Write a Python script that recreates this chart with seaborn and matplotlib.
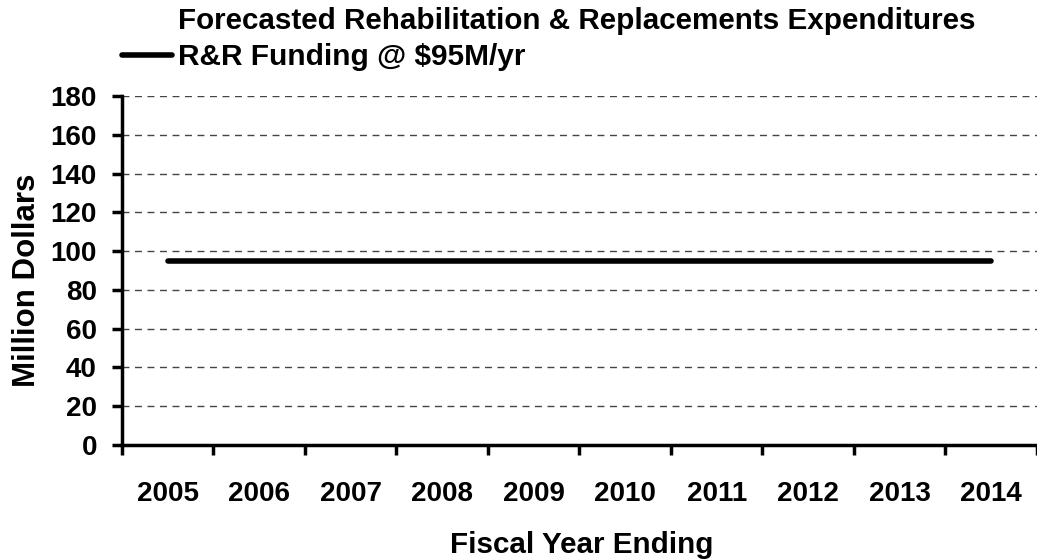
# Import Matplotlib, Pandas, and Seaborn
import matplotlib.pyplot as plt
import pandas as pd
import seaborn as sns

# Chart data
years = ["2005", "2006", "2007", "2008", "2009", "2010", "2011", "2012", "2013", "2014"]
funding = [95, 95, 95, 95, 95, 95, 95, 95, 95, 95]
y_ticks = [0, 20, 40, 60, 80, 100, 120, 140, 160, 180]

df = pd.DataFrame({"pos": range(len(years)), "Funding": funding})

sns.set_style("white")
plt.rcParams["font.family"] = ["Liberation Sans", "DejaVu Sans"]
plt.rcParams["font.weight"] = "bold"
plt.rcParams["text.color"] = "black"
plt.rcParams["axes.labelcolor"] = "black"
plt.rcParams["xtick.color"] = "black"
plt.rcParams["ytick.color"] = "black"

fig = plt.figure(figsize=(10.37, 5.6), dpi=100)
ax = fig.add_axes([0.1176, 0.2054, 0.8824, 0.623])

# Dashed gridlines
for v in y_ticks[1:]:
    ax.axhline(v, color="#444444", lw=1.0, ls=(0, (5, 4)), zorder=0)

# Create the funding line
sns.lineplot(x="pos", y="Funding", data=df, color="black", lw=4,
             solid_capstyle="round", ax=ax, label="R&R Funding @ $95M/yr")

ax.set_xlim(-0.5, len(years) - 0.5)
ax.set_ylim(0, 180)
ax.set_yticks(y_ticks)
ax.set_yticklabels([str(v) for v in y_ticks], fontsize=20, fontweight="bold")
ax.set_xticks(range(len(years)))
ax.set_xticklabels(years, fontsize=20, fontweight="bold")
ax.set_xticks([i - 0.5 for i in range(len(years) + 1)], minor=True)
ax.tick_params(axis="x", which="major", length=0, pad=26)
ax.tick_params(axis="x", which="minor", length=7, width=2.5, direction="out", bottom=True)
ax.tick_params(axis="y", length=7, width=2.5, direction="out", left=True, pad=11)

for side in ["top", "right"]:
    ax.spines[side].set_visible(False)
for side in ["left", "bottom"]:
    ax.spines[side].set_linewidth(2.5)
    ax.spines[side].set_color("black")

ax.set_xlabel("Fiscal Year Ending", fontsize=21.3, fontweight="bold")
ax.set_ylabel("Million Dollars", fontsize=22.5, fontweight="bold")
ax.xaxis.label.set_va("center")
ax.yaxis.label.set_va("center")
ax.xaxis.set_label_coords(0.502, -0.2865)
ax.yaxis.set_label_coords(-0.104, 0.473)

fig.text(0.556, 0.962, "Forecasted Rehabilitation & Replacements Expenditures",
         ha="center", va="center", fontsize=21.3, fontweight="bold")

leg = ax.legend(loc="center left", bbox_to_anchor=(0.1176, 0.898), bbox_transform=fig.transFigure,
                frameon=False, fontsize=21.5, handlelength=1.67, handletextpad=0.2,
                borderpad=0, borderaxespad=0)
for t in leg.get_texts():
    t.set_fontweight("bold")

# Save plot
fig.savefig("out.png", dpi=100)
